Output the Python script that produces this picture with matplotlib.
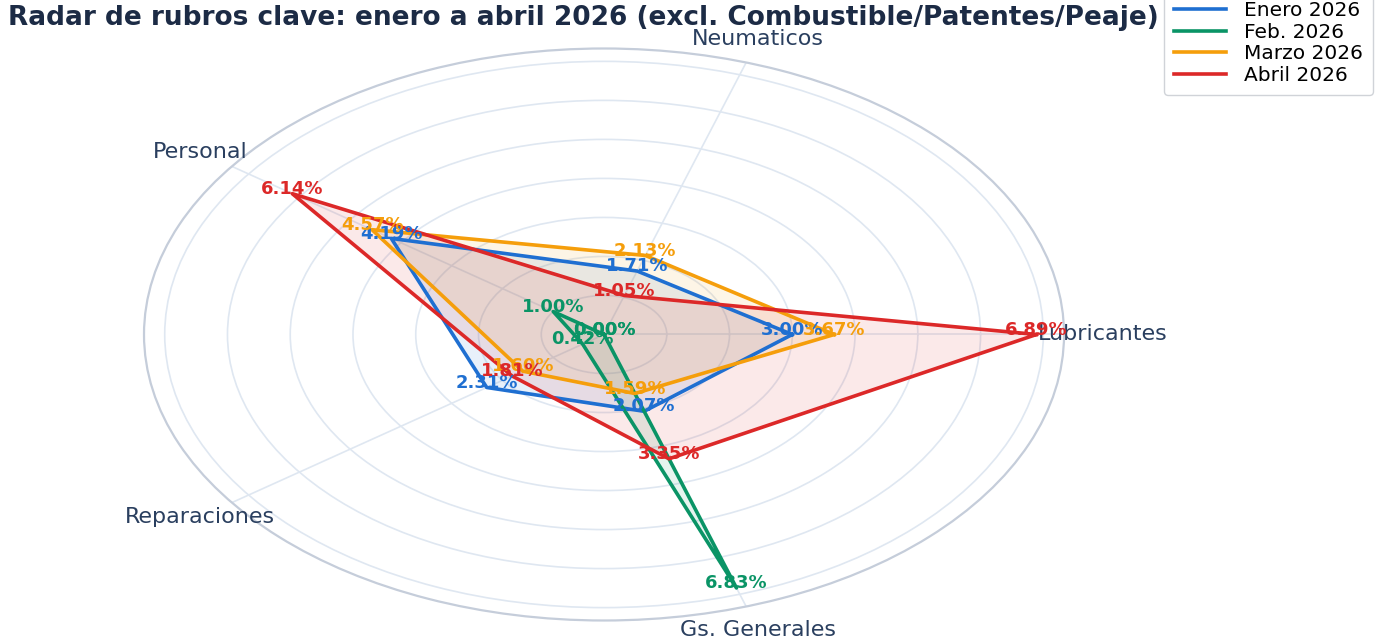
import numpy as np
import matplotlib
matplotlib.use("Agg")
import matplotlib.pyplot as plt

categories = ["Lubricantes", "Neumaticos", "Personal", "Reparaciones", "Gs. Generales"]
series_names = ["Enero 2026", "Feb. 2026", "Marzo 2026", "Abril 2026"]
enero = [3.00, 1.71, 4.19, 2.31, 2.07]
feb = [0.00, 0.00, 1.00, 0.42, 6.83]
marzo = [3.67, 2.13, 4.57, 1.60, 1.59]
abril = [6.89, 1.05, 6.14, 1.81, 3.35]
series_values = [enero, feb, marzo, abril]
colors = ["#1f6fd1", "#0a9466", "#f59e0b", "#dc2828"]
title = "Radar de rubros clave: enero a abril 2026 (excl. Combustible/Patentes/Peaje)"

R_MAX = 7.33
grid_vals = [1, 2, 3, 4, 5, 6, 7]

plt.rcParams["font.family"] = ["DejaVu Sans"]

fig = plt.figure(figsize=(13.86, 6.44), dpi=100)
ax = fig.add_axes([0.1039, 0.0365, 0.6638, 0.8882], projection="polar")
ax.set_aspect("auto")

n = len(categories)
angles = np.deg2rad(np.arange(n) * 360.0 / n)
ang_closed = np.concatenate([angles, angles[:1]])

ax.set_ylim(0, R_MAX)
ax.set_yticks(grid_vals)
ax.set_yticklabels([])
ax.set_xticks(angles)
ax.set_xticklabels([])
ax.grid(True, color="#dfe7f1", linewidth=1.2)
ax.spines["polar"].set_color("#c5cdda")
ax.spines["polar"].set_linewidth(1.6)
ax.set_facecolor("white")

for name, vals, col in zip(series_names, series_values, colors):
    v = np.array(vals + vals[:1])
    ax.fill(ang_closed, v, color=col, alpha=0.10, zorder=2)
    ax.plot(ang_closed, v, color=col, linewidth=2.6, label=name, zorder=3)
    for a, val in zip(angles, vals):
        ax.annotate(f"{val:.2f}%", xy=(a, val), xytext=(0, 3.5),
                    textcoords="offset points", ha="center", va="center",
                    fontsize=13, fontweight="bold", color=col,
                    annotation_clip=False, zorder=4)

for a, lab in zip(angles, categories):
    ax.text(a, 7.95, lab, ha="center", va="center", fontsize=16,
            color="#2a3f5f", clip_on=False)

fig.text(0.006, 0.972, title, ha="left", va="center", fontsize=19,
         fontweight="bold", color="#1c2b45")

leg = fig.legend(loc="upper right", bbox_to_anchor=(0.998, 1.03), fontsize=14.5,
                 frameon=True, handlelength=2.6, handletextpad=0.9,
                 labelspacing=0.14, borderpad=0.5, fancybox=True,
                 framealpha=0.85)
leg.get_frame().set_edgecolor("#c8ccd2")
leg.get_frame().set_linewidth(1.0)

fig.savefig("out.png", dpi=100, facecolor="white")
